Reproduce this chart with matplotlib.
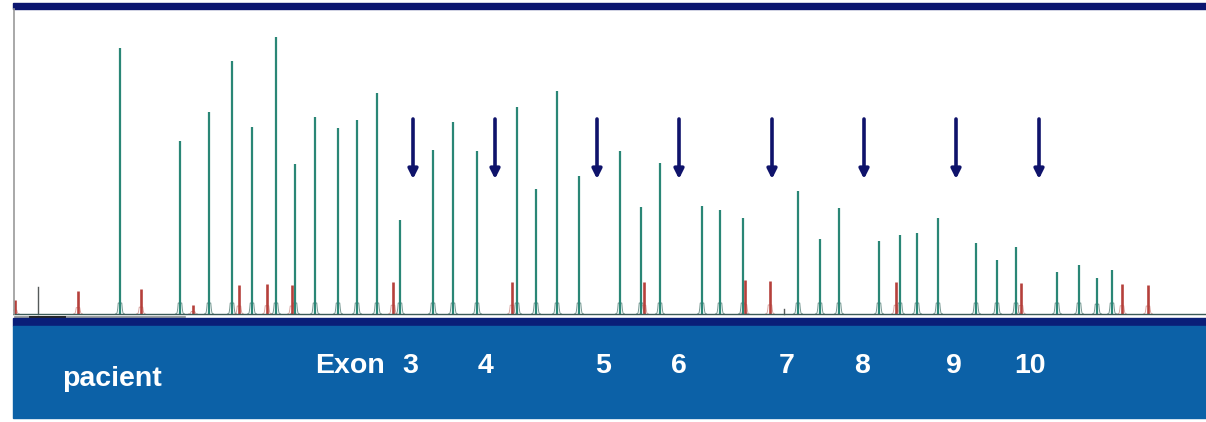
import matplotlib.pyplot as plt
from matplotlib.patches import Rectangle

# peak positions (fragment size axis) and heights (signal)
green_x = [120, 180, 209, 232, 252, 276, 295, 315, 338, 357, 377, 400, 433, 453, 477,
           517, 536, 557, 579, 620, 641, 660, 702, 720, 743, 798, 820, 839, 879, 900,
           917, 938, 976, 997, 1016, 1057, 1079, 1097, 1112]
green_h = [266, 173, 202, 253, 187, 277, 150, 197, 186, 194, 221, 94, 164, 192, 163,
           207, 125, 223, 138, 163, 107, 151, 108, 104, 96, 123, 75, 106, 73, 79,
           81, 96, 71, 54, 67, 42, 49, 36, 44]
red_x = [15, 78, 141, 193, 239, 267, 292, 393, 512, 644, 745, 770, 896, 1021, 1122, 1148]
red_h = [14, 23, 25, 9, 29, 30, 29, 32, 32, 32, 34, 33, 32, 31, 30, 29]
grey_x = [38, 784]
grey_h = [27, 5]

arrow_x = [413, 495, 597, 679, 772, 864, 956, 1039]
exon_labels = ['3', '4', '5', '6', '7', '8', '9', '10']
exon_label_x = [410, 486, 603, 679, 787, 862, 954, 1030]

W, H = 1206, 422
fig = plt.figure(figsize=(W / 100, H / 100), dpi=100)
fig.patch.set_facecolor('white')

# chart area: pixel 13..1206 horizontally, 8..318 vertically, baseline at 314
ax = fig.add_axes([13 / W, (H - 318) / H, (W - 13) / W, 310 / H])
ax.set_xlim(13, 1206)
ax.set_ylim(-4, 306)
ax.axis('off')

# base bell shape of a peak (drawing template)
bdx = [-4.5, -3, -2.3, -1.8, 1.8, 2.3, 3, 4.5]
bdy = [0, 1, 5, 11, 11, 5, 1, 0]


def draw_peak(x, h, col, edge, lw):
    bh = min(1.0, h / 40.0)
    ax.plot([x + d for d in bdx], [v * bh for v in bdy], color=edge, lw=0.6,
            alpha=0.8, zorder=2)
    ax.plot([x, x], [0, h], color=col, lw=lw, zorder=3, solid_capstyle='butt')


for x, h in zip(green_x, green_h):
    draw_peak(x, h, '#2a8676', '#3d6b63', 1.6)
for x, h in zip(red_x, red_h):
    draw_peak(x, h, '#b5403b', '#c9807c', 1.9)
for x, h in zip(grey_x, grey_h):
    ax.plot([x, x], [0, h], color='#555a5a', lw=1.0, zorder=3)

ax.axhline(0, color='#3b5b58', lw=1.0, zorder=4)
ax.plot([15, 185], [-3, -3], color='#8a8f8f', lw=1.2)
ax.plot([30, 65], [-3, -3], color='#222222', lw=1.4)

# arrows marking exons
for x in arrow_x:
    ax.annotate('', xy=(x, 135), xytext=(x, 195),
                arrowprops=dict(arrowstyle='-|>', color='#0f136b', lw=2.6,
                                mutation_scale=14, shrinkA=0, shrinkB=0))

# frame pieces drawn in figure pixels
def rect(x0, y0, x1, y1, color):
    fig.patches.append(Rectangle((x0 / W, 1 - y1 / H), (x1 - x0) / W, (y1 - y0) / H,
                                 transform=fig.transFigure, color=color, zorder=0))

rect(13, 3, W, 9, '#0c1670')
rect(13, 318, W, 326, '#0a1f78')
rect(13, 326, W, 418, '#0c61a7')
fig.add_artist(plt.Line2D([14 / W, 14 / W], [1 - 314 / H, 1 - 9 / H],
                          transform=fig.transFigure, color='#9a9a9a', lw=1.2))

font = dict(color='white', fontweight='bold', family='Liberation Sans', fontsize=20.5)
fig.text(62 / W, 1 - 379 / H, 'pacient', ha='left', va='center', **font)
fig.text(315 / W, 1 - 366 / H, 'Exon', ha='left', va='center', **font)
for lab, x in zip(exon_labels, exon_label_x):
    fig.text(x / W, 1 - 366 / H, lab, ha='center', va='center', **font)

fig.savefig('out.png', dpi=100)
